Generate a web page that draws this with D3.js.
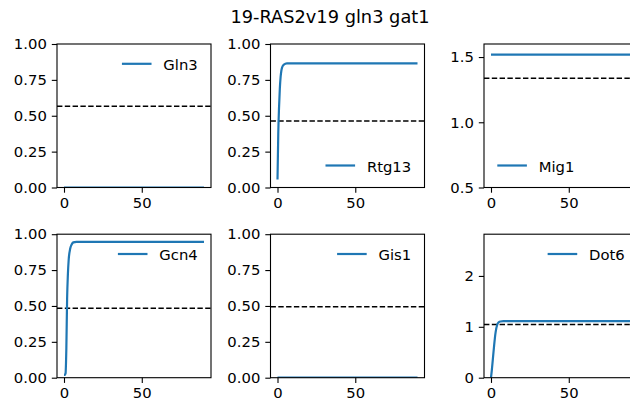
<!DOCTYPE html>
<html>
<head>
<meta charset="utf-8">
<script src="https://cdn.jsdelivr.net/npm/d3@7"></script>
<style>
  html, body { margin: 0; padding: 0; background: #fff; }
  svg { display: block; font-family: "DejaVu Sans", sans-serif; }
</style>
</head>
<body>
<svg id="chart" width="630" height="405"></svg>
<script>
// Simulation output for strain 19-RAS2v19 gln3 gat1
const figTitle = "19-RAS2v19 gln3 gat1";
const names = ["Gln3", "Rtg13", "Mig1", "Gcn4", "Gis1", "Dot6"];
const time = [0, 0.5, 1, 1.5, 2, 2.5, 3, 4, 5, 6, 8, 10, 20, 30, 40, 50, 60, 70, 80, 90];

const gln3  = [0, 0, 0, 0, 0, 0, 0, 0, 0, 0, 0, 0, 0, 0, 0, 0, 0, 0, 0, 0];
const rtg13 = [0.056, 0.38, 0.56, 0.69, 0.77, 0.815, 0.838, 0.856, 0.862, 0.865, 0.865, 0.865, 0.865, 0.865, 0.865, 0.865, 0.865, 0.865, 0.865, 0.865];
const mig1  = [1.518, 1.518, 1.518, 1.518, 1.518, 1.518, 1.518, 1.518, 1.518, 1.518, 1.518, 1.518, 1.518, 1.518, 1.518, 1.518, 1.518, 1.518, 1.518, 1.518];
const gcn4  = [0.02, 0.02, 0.03, 0.2, 0.55, 0.72, 0.82, 0.9, 0.93, 0.943, 0.947, 0.947, 0.947, 0.947, 0.947, 0.947, 0.947, 0.947, 0.947, 0.947];
const gis1  = [0, 0, 0, 0, 0, 0, 0, 0, 0, 0, 0, 0, 0, 0, 0, 0, 0, 0, 0, 0];
const dot6  = [0, 0.14, 0.3, 0.47, 0.63, 0.78, 0.9, 1.04, 1.09, 1.105, 1.11, 1.11, 1.11, 1.11, 1.11, 1.11, 1.11, 1.11, 1.11, 1.11];
const series = [gln3, rtg13, mig1, gcn4, gis1, dot6];

// Reference (threshold) levels drawn as dashed horizontal lines
const thresholds = [0.566, 0.464, 1.338, 0.484, 0.495, 1.047];

// Y-axis limits and ticks per panel
const yMin = [0, 0, 0.5, 0, 0, 0];
const yMax = [1, 1, 1.6, 1, 1, 2.82];
const yTicks = [
  [0, 0.25, 0.5, 0.75, 1],
  [0, 0.25, 0.5, 0.75, 1],
  [0.5, 1.0, 1.5],
  [0, 0.25, 0.5, 0.75, 1],
  [0, 0.25, 0.5, 0.75, 1],
  [0, 1, 2]
];
const yTickFormats = [".2f", ".2f", ".1f", ".2f", ".2f", "d"];
const xTicks = [0, 50];
const legendLoc = ["upper right", "lower right", "lower left", "upper right", "upper right", "upper right"];

const svg = d3.select("#chart");
const fs = 14.8;
const lineColor = "#1f77b4";

svg.append("text")
  .attr("x", 330).attr("y", 23)
  .attr("text-anchor", "middle")
  .attr("font-size", 17.8)
  .attr("fill", "#000")
  .text(figTitle);

const panelW = 154, panelH = 143.5;
const left0 = 57, colStep = 213.5;
const top0 = 44, rowStep = 190.2;

names.forEach((name, i) => {
  const col = i % 3, row = Math.floor(i / 3);
  const px = left0 + col * colStep;
  const py = top0 + row * rowStep;

  const xMax = d3.max(time), xPad = 0.05 * (xMax - d3.min(time));
  const x = d3.scaleLinear().domain([d3.min(time) - xPad, xMax + xPad]).range([0, panelW]);
  const y = d3.scaleLinear().domain([yMin[i], yMax[i]]).range([panelH, 0]);

  const g = svg.append("g").attr("transform", `translate(${px},${py})`);

  const clipId = "clip" + i;
  g.append("clipPath").attr("id", clipId)
    .append("rect").attr("x", 0).attr("y", 0).attr("width", panelW).attr("height", panelH);

  const plot = g.append("g").attr("clip-path", `url(#${clipId})`);

  // dashed threshold across the whole axes
  plot.append("line")
    .attr("x1", 0).attr("x2", panelW)
    .attr("y1", y(thresholds[i])).attr("y2", y(thresholds[i]))
    .attr("stroke", "#000").attr("stroke-width", 1.45)
    .attr("stroke-dasharray", "5.4,2.4");

  const line = d3.line()
    .x((d, k) => x(time[k]))
    .y(d => y(d))
    .curve(d3.curveMonotoneX);

  plot.append("path")
    .datum(series[i])
    .attr("d", line)
    .attr("fill", "none")
    .attr("stroke", lineColor)
    .attr("stroke-width", 2.2)
    .attr("stroke-linecap", "butt");

  // axes
  const xAxis = d3.axisBottom(x).tickValues(xTicks).tickSize(5.2).tickPadding(5).tickFormat(d3.format("d"));
  const yAxis = d3.axisLeft(y).tickValues(yTicks[i]).tickSize(5.2).tickPadding(5).tickFormat(d3.format(yTickFormats[i]));

  const gx = g.append("g").attr("transform", `translate(0,${panelH})`).call(xAxis);
  const gy = g.append("g").call(yAxis);
  [gx, gy].forEach(a => {
    a.select(".domain").remove();
    a.selectAll(".tick line").attr("stroke", "#000").attr("stroke-width", 1.1);
    a.selectAll(".tick text").attr("font-size", fs).attr("fill", "#000")
      .attr("font-family", "DejaVu Sans, sans-serif");
  });

  // frame (all four spines)
  g.append("rect")
    .attr("x", 0).attr("y", 0).attr("width", panelW).attr("height", panelH)
    .attr("fill", "none").attr("stroke", "#000").attr("stroke-width", 1.1);

  // legend
  const inset = 13.3, handleLen = 29.6, handleGap = 11.8;
  const lg = g.append("g");
  const label = lg.append("text")
    .attr("font-size", fs).attr("fill", "#000")
    .attr("dominant-baseline", "central")
    .text(name);
  const tw = label.node().getComputedTextLength();
  const loc = legendLoc[i];
  const ly = loc.startsWith("upper") ? 19.8 : panelH - 22;
  let hx;
  if (loc.endsWith("right")) {
    hx = panelW - inset - tw - handleGap - handleLen;
  } else {
    hx = inset;
  }
  lg.append("line")
    .attr("x1", hx).attr("x2", hx + handleLen)
    .attr("y1", ly).attr("y2", ly)
    .attr("stroke", lineColor).attr("stroke-width", 2.2);
  label.attr("x", hx + handleLen + handleGap).attr("y", ly + 0.5);
});
</script>
</body>
</html>
